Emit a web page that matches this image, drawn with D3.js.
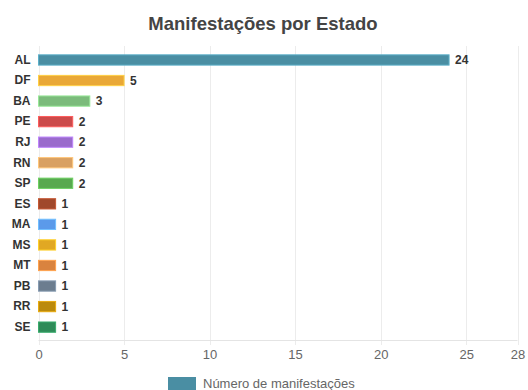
<!DOCTYPE html>
<html>
<head>
<meta charset="utf-8">
<script src="https://cdn.jsdelivr.net/npm/d3@7"></script>
<style>
  body { margin: 0; background: #fff; }
  svg { display: block; font-family: "Liberation Sans", Arial, sans-serif; }
</style>
</head>
<body>
<svg id="chart" width="528" height="390"></svg>
<script>
// Manifestações por estado
const estados = ["AL", "DF", "BA", "PE", "RJ", "RN", "SP", "ES", "MA", "MS", "MT", "PB", "RR", "SE"];
const manifestacoes = [24, 5, 3, 2, 2, 2, 2, 1, 1, 1, 1, 1, 1, 1];
const cores = ["#4a8ea3", "#e9a837", "#7bbb7b", "#cc4b4b", "#9a6bcc", "#d9a062", "#58a94f",
               "#a0482b", "#5b9aea", "#e1a823", "#d9833f", "#6c7d8f", "#bb8a0c", "#2e8b58"];
const xTicks = [0, 5, 10, 15, 20, 25, 28];
const titulo = "Manifestações por Estado";
const legenda = "Número de manifestações";

const svg = d3.select("#chart");
const plot = { left: 38.5, right: 517.5, top: 46, bottom: 340, bandTop: 49.7, bandBottom: 337.4 };

const x = d3.scaleLinear().domain([0, 28]).range([plot.left, plot.right]);
const y = d3.scaleBand().domain(estados).range([plot.bandTop, plot.bandBottom])
  .paddingInner(0.5).paddingOuter(0.25);

// grid
svg.append("g").selectAll("line").data(xTicks).join("line")
  .attr("x1", d => Math.round(x(d)) + 0.5).attr("x2", d => Math.round(x(d)) + 0.5)
  .attr("y1", plot.top).attr("y2", plot.bottom + 5)
  .attr("stroke", "#ececec").attr("stroke-width", 1);

svg.append("line")
  .attr("x1", plot.left).attr("x2", plot.right)
  .attr("y1", plot.bottom + 0.5).attr("y2", plot.bottom + 0.5)
  .attr("stroke", "#e4e4e4");

// x axis
const xAxis = d3.axisBottom(x).tickValues(xTicks).tickSize(0).tickPadding(10);
const gx = svg.append("g").attr("transform", `translate(0,${plot.bottom})`).call(xAxis);
gx.select(".domain").remove();
gx.selectAll("text").attr("fill", "#666").attr("font-size", 13);

// y axis
const yAxis = d3.axisLeft(y).tickSize(0).tickPadding(8);
const gy = svg.append("g").attr("transform", `translate(${plot.left},0)`).call(yAxis);
gy.select(".domain").remove();
gy.selectAll("text").attr("fill", "#333").attr("font-size", 12).attr("font-weight", "bold");

// bars
const rows = estados.map((e, i) => ({ e, v: manifestacoes[i], c: cores[i] }));
svg.append("g").selectAll("rect").data(rows).join("rect")
  .attr("x", x(0))
  .attr("y", d => y(d.e))
  .attr("width", d => x(d.v) - x(0))
  .attr("height", y.bandwidth())
  .attr("fill", d => d.c)
  .attr("stroke", d => d3.color(d.c).brighter(0.6))
  .attr("stroke-width", 1);

// value labels
svg.append("g").selectAll("text").data(rows).join("text")
  .attr("x", d => x(d.v) + 6)
  .attr("y", d => y(d.e) + y.bandwidth() / 2)
  .attr("dy", "0.36em")
  .attr("fill", "#333").attr("font-size", 12).attr("font-weight", "bold")
  .text(d => d.v);

// title
svg.append("text")
  .attr("x", 263).attr("y", 30)
  .attr("text-anchor", "middle")
  .attr("fill", "#444").attr("font-size", 18.5).attr("font-weight", "bold")
  .text(titulo);

// legend
svg.append("rect").attr("x", 168).attr("y", 377).attr("width", 28).attr("height", 14).attr("fill", cores[0]);
svg.append("text").attr("x", 203).attr("y", 388)
  .attr("fill", "#666").attr("font-size", 13).text(legenda);
</script>
</body>
</html>
